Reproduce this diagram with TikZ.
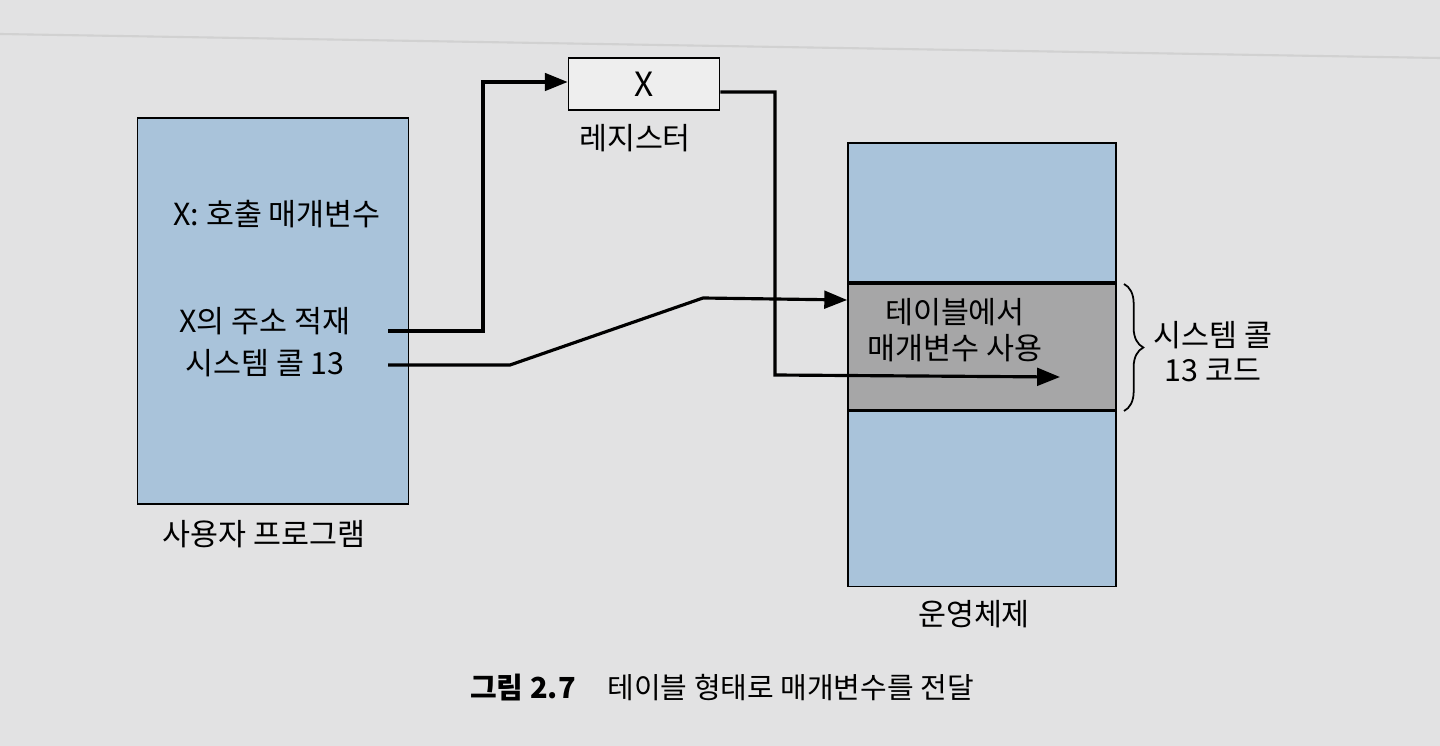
\documentclass[tikz,border=0pt]{standalone}
\usepackage{fontspec}
\setmainfont{Noto Sans CJK KR}
\usetikzlibrary{arrows.meta,decorations.pathreplacing}
\definecolor{pagebg}{HTML}{E2E2E3}
\definecolor{memblue}{HTML}{A9C3DA}
\definecolor{memgray}{HTML}{A6A6A7}

\begin{document}
\begin{tikzpicture}[x=0.02cm,y=-0.02cm]
    \tikzstyle{mem}=[draw,line width=1pt,fill=memblue,inner sep=0,minimum width=5.4cm]
    \tikzstyle{lbl}=[font=\fontsize{17.3}{24}\selectfont,align=center,inner sep=0]
    \tikzstyle{flow}=[line width=1.8pt,-{Triangle[length=13pt,width=10pt]}]
    \path[fill=pagebg,use as bounding box] (0,0) rectangle (1440,746);
    \draw[black!18,line width=1.2pt] (0,34) -- (1440,58);

    \path (273,311) node[mem,minimum width=5.42cm,minimum height=7.72cm] (user) {};
    \path (277,214) node[lbl] (param) {X: 호출 매개변수};
    \path (265,342) node[lbl] (call) {X의 주소 적재\\시스템 콜 13};
    \path (user.south) ++(-9,29) node[lbl] (userlbl) {사용자 프로그램};
    \coordinate (loadout) at (388,331);
    \coordinate (callout) at (388,365);

    \path (644,84) node[draw,line width=1pt,fill=pagebg!60!white,minimum width=3.02cm,minimum height=1.04cm,font=\fontsize{19}{20}\selectfont] (reg) {X};
    \path (reg.south) ++(-9,27) node[lbl] (reglbl) {레지스터};

    \path (982,212.5) node[mem,minimum width=5.36cm,minimum height=2.78cm] (ostop) {};
    \path (ostop.south) node[mem,fill=memgray,anchor=north,minimum width=5.36cm,minimum height=2.52cm] (table) {};
    \path (table.south) node[mem,anchor=north,minimum width=5.36cm,minimum height=3.5cm] (osbot) {};
    \path (955,330) node[lbl,font=\fontsize{17.3}{20.5}\selectfont] (use) {테이블에서\\매개변수 사용};
    \path (osbot.south) ++(-8,27) node[lbl] (oslbl) {운영체제};
    \coordinate (usein) at (1060,377);

    \draw[line width=1pt,decorate,decoration={brace,amplitude=11pt}] (1124,284) -- (1124,411);
    \path (1213,352) node[lbl,font=\fontsize{17.3}{20}\selectfont] (codelbl) {시스템 콜\\13 코드};

    \draw[flow] (loadout) -| (483,82) -- (reg.west |- 0,82);
    \draw[flow] (reg.east |- 0,92) -| (775,375) -- (usein);
    \draw[flow] (callout) -- (510,365) -- (703,298) -- (table.west |- 0,300);

    \path (722,688) node[inner sep=0,font=\fontsize{16.5}{18}\selectfont] (caption) {\textbf{그림 2.7}\hspace{1.1em}테이블 형태로 매개변수를 전달};
\end{tikzpicture}
\end{document}
